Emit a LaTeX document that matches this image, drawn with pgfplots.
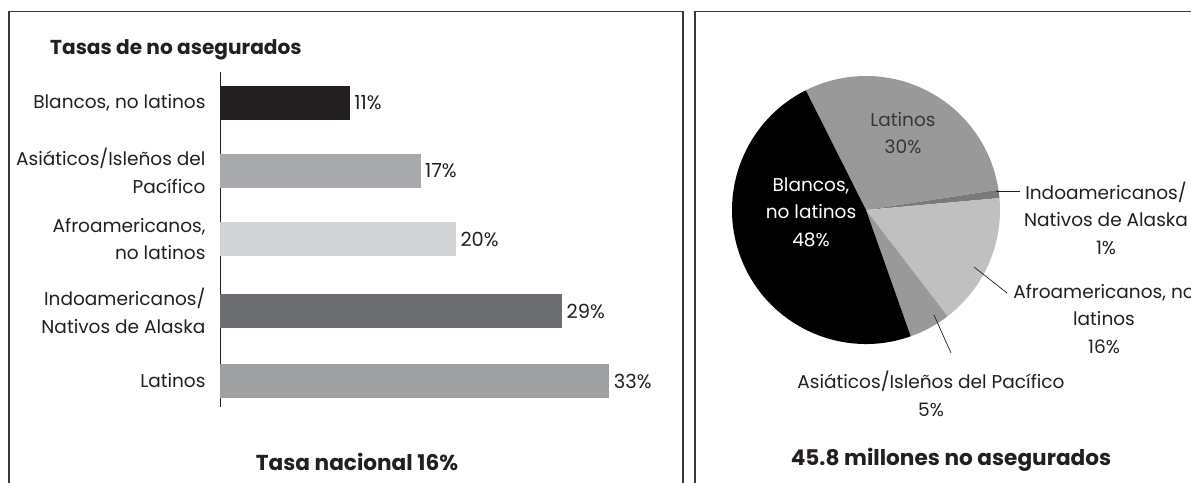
\documentclass[border=0pt]{standalone}
\usepackage{fontspec}
\setmainfont{Poppins}
\usepackage{pgfplots}
\pgfplotsset{compat=1.18}
\definecolor{txt}{HTML}{231F20}
\definecolor{cBlan}{HTML}{231F20}
\definecolor{cAsia}{HTML}{A7A9AC}
\definecolor{cAfro}{HTML}{D1D3D4}
\definecolor{cIndo}{HTML}{6D6E71}
\definecolor{cLati}{HTML}{9FA0A2}
\definecolor{pBlan}{HTML}{000000}
\definecolor{pLati}{HTML}{999999}
\definecolor{pIndo}{HTML}{7A7A7A}
\definecolor{pAfro}{HTML}{C0C0C0}
\definecolor{pAsia}{HTML}{999999}
\definecolor{boxc}{HTML}{3A3A3A}
\newcommand{\regf}{\fontsize{18.6}{27.5}\selectfont}
\newcommand{\numf}{\fontsize{19.5}{27.5}\selectfont}
\newcommand{\boldf}{\fontsize{21.7}{24}\selectfont\bfseries}
\newcommand{\titf}{\fontsize{20.2}{24}\selectfont\bfseries}
\begin{document}
\begin{tikzpicture}[x=1bp,y=1bp]
\useasboundingbox (0,0) rectangle (1191,483);
% ---------- bar chart ----------
\begin{axis}[
  at={(220bp,76bp)}, anchor=south west,
  scale only axis, width=413bp, height=335bp,
  xmin=0, xmax=35, ymin=72, ymax=407, y dir=reverse,
  axis x line=none, axis y line*=left,
  y axis line style={line width=0.9bp, color=txt},
  ytick={103,171,239,311,381},
  yticklabels={{Blancos, no latinos},{Asiáticos/Isleños del\\Pacífico},{Afroamericanos,\\no latinos},{Indoamericanos/\\Nativos de Alaska},{Latinos}},
  yticklabel style={align=right, font=\regf, text=txt, xshift=-11bp},
  major tick length=0pt,
  clip=false,
  xbar, bar width=34bp, bar shift=0pt,
  nodes near coords={\pgfmathprintnumber[assume math mode=true]{\pgfplotspointmeta}\%},
  nodes near coords style={font=\numf, text=txt, anchor=west, xshift=1bp},
  point meta=x,
]
\addplot[fill=cBlan, draw=none] coordinates {(11,103)};
\addplot[fill=cAsia, draw=none] coordinates {(17,171)};
\addplot[fill=cAfro, draw=none] coordinates {(20,239)};
\addplot[fill=cIndo, draw=none] coordinates {(29,311)};
\addplot[fill=cLati, draw=none] coordinates {(33,381)};
\end{axis}
% ---------- pie chart ----------
\begin{axis}[
  at={(732bp,139bp)}, anchor=south west,
  scale only axis, width=268bp, height=268bp,
  xmin=-1, xmax=1, ymin=-1, ymax=1, hide axis, clip=false,
]
% shares (percent): Latinos 30, Indo 1, Afro 16, Asia 5, Blancos 48; start angle 116.7, clockwise
\fill[pLati] (axis cs:0,0) -- (axis cs:{cos(116.7)},{sin(116.7)}) arc[start angle=116.7, end angle={116.7-30*3.6}, radius=134bp] -- cycle;
\fill[pIndo] (axis cs:0,0) -- (axis cs:{cos(116.7-30*3.6)},{sin(116.7-30*3.6)}) arc[start angle={116.7-30*3.6}, end angle={116.7-31*3.6}, radius=134bp] -- cycle;
\fill[pAfro] (axis cs:0,0) -- (axis cs:{cos(116.7-31*3.6)},{sin(116.7-31*3.6)}) arc[start angle={116.7-31*3.6}, end angle={116.7-47*3.6}, radius=134bp] -- cycle;
\fill[pAsia] (axis cs:0,0) -- (axis cs:{cos(116.7-47*3.6)},{sin(116.7-47*3.6)}) arc[start angle={116.7-47*3.6}, end angle={116.7-52*3.6}, radius=134bp] -- cycle;
\fill[pBlan] (axis cs:0,0) -- (axis cs:{cos(116.7-52*3.6)},{sin(116.7-52*3.6)}) arc[start angle={116.7-52*3.6}, end angle={116.7-100*3.6}, radius=134bp] -- cycle;
\end{axis}
% ---------- boxes and texts (image coordinates) ----------
\begin{scope}[shift={(0,483)}, y=-1bp]
\draw[boxc, line width=1.4bp] (9,490) -- (9,11.7) -- (683,11.7) -- (683,490);
\draw[boxc, line width=1.4bp] (695,490) -- (695,11.7) -- (1200,11.7);
\node[anchor=west, text=txt, font=\titf, inner sep=0] at (50,50) {Tasas de no asegurados};
\node[text=txt, font=\boldf] at (357,462) {Tasa nacional 16\%};
\node[text=txt, font=\boldf] at (951,460) {45.8 millones no asegurados};
\node[text=txt!90, font=\regf, align=center] at (903,133) {Latinos\\30\%};
\node[text=white, font=\regf, align=center] at (811,212) {Blancos,\\no latinos\\48\%};
\draw[txt, line width=0.7bp] (996,191) -- (1020,191);
\node[text=txt, font=\regf, align=center] at (1106,218) {Indoamericanos/\\Nativos de Alaska\\1\%};
\draw[txt, line width=0.7bp] (974,267) -- (1007,293);
\node[text=txt, font=\regf, align=center] at (1104,319) {Afroamericanos, no\\latinos\\16\%};
\draw[txt, line width=0.7bp] (934,315) -- (951,353);
\node[text=txt, font=\regf, align=center] at (931,394) {Asiáticos/Isleños del Pacífico\\5\%};
\end{scope}
\end{tikzpicture}
\end{document}
